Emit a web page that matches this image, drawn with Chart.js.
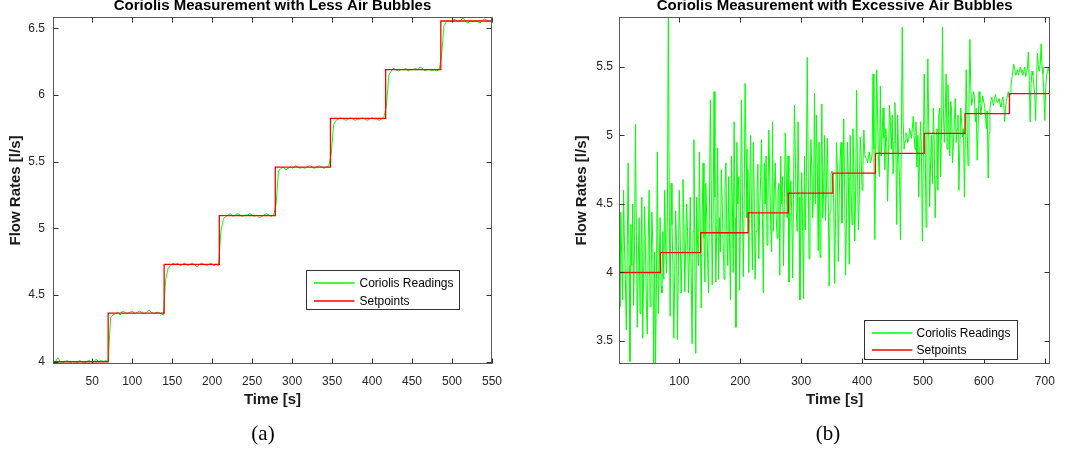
<!DOCTYPE html>
<html>
<head>
<meta charset="utf-8">
<script src="https://cdn.jsdelivr.net/npm/chart.js@4.4.0/dist/chart.umd.min.js"></script>
<style>
  html,body{margin:0;padding:0;background:#fff;}
  body{width:1065px;height:452px;position:relative;overflow:hidden;}
  canvas{position:absolute;top:0;}
  .cap{position:absolute;top:421px;line-height:24px;font-family:"Liberation Serif","Times New Roman",serif;font-size:21px;color:#000;text-align:center;width:60px;}
</style>
</head>
<body>
<canvas id="ca" width="540" height="452" style="left:0;width:540px;height:452px"></canvas>
<canvas id="cb" width="525" height="452" style="left:540px;width:525px;height:452px"></canvas>
<div class="cap" style="left:233px">(a)</div>
<div class="cap" style="left:798px">(b)</div>
<script>
// ---------- Data: chart (a) ----------
const titleA = "Coriolis Measurement with Less Air Bubbles";
const readStartA = 1, readStepA = 3;
const readingsA = [
 4.01,4.00,4.03,4.00,3.99,4.00,4.01,3.99,4.00,4.00,3.99,4.01,4.00,3.99,4.00,4.01,4.00,4.00,4.02,4.00,4.01,4.00,4.01,4.00,
 4.33,4.35,4.36,4.37,4.35,4.38,4.37,4.36,4.37,4.38,4.36,4.37,4.38,4.37,4.36,4.37,4.39,4.37,4.36,4.37,4.37,4.36,4.35,
 4.62,4.70,4.72,4.74,4.73,4.74,4.72,4.73,4.74,4.72,4.73,4.74,4.73,4.71,4.73,4.74,4.73,4.72,4.73,4.74,4.72,4.73,4.72,
 4.98,5.07,5.09,5.10,5.11,5.09,5.10,5.11,5.10,5.09,5.10,5.10,5.11,5.10,5.09,5.10,5.08,5.09,5.10,5.11,5.10,5.09,5.10,
 5.18,5.43,5.45,5.46,5.44,5.45,5.46,5.45,5.47,5.46,5.45,5.46,5.45,5.46,5.47,5.46,5.45,5.46,5.47,5.46,5.45,5.46,5.47,
 5.56,5.78,5.81,5.82,5.83,5.82,5.81,5.82,5.83,5.82,5.81,5.82,5.82,5.83,5.82,5.81,5.82,5.83,5.82,5.82,5.81,5.82,5.84,
 5.92,6.15,6.18,6.20,6.19,6.18,6.19,6.19,6.20,6.18,6.19,6.19,6.20,6.19,6.21,6.20,6.18,6.19,6.19,6.18,6.19,6.18,6.19,
 6.30,6.52,6.55,6.56,6.55,6.57,6.56,6.55,6.56,6.58,6.55,6.54,6.56,6.55,6.56,6.55,6.54,6.56,6.57,6.56,6.55,6.55
];
const setTimesA  = [1, 70, 140, 209, 279, 348, 417, 486, 550];
const setLevelsA = [4.00, 4.365, 4.73, 5.095, 5.46, 5.825, 6.19, 6.555, 6.555];
const xTicksA = [50,100,150,200,250,300,350,400,450,500,550];
const yTicksA = [4,4.5,5,5.5,6,6.5];
const xRangeA = [1, 550], yRangeA = [3.983, 6.585];

// ---------- Data: chart (b) ----------
const titleB = "Coriolis Measurement with Excessive Air Bubbles";
const readStartB = 1, readStepB = 3;
// readings at t = 1, 4, 7, ...
const readingsB = [
 4.30,4.44,3.80,4.20,3.58,4.80,3.35,4.05,3.76,5.08,
 3.60,4.40,4.10,3.52,4.48,3.76,4.25,3.75,4.44,3.34,
 3.33,4.88,4.05,3.90,4.30,4.60,4.00,5.95,3.68,4.35,
 3.52,4.45,3.51,4.60,3.85,4.68,3.86,4.50,3.85,4.55,
 3.48,4.97,3.41,4.20,4.88,3.74,4.80,3.93,4.40,3.85,
 5.26,3.91,5.32,3.93,4.91,4.40,4.75,4.20,4.62,4.30,
 4.70,3.80,4.55,5.10,3.60,4.50,3.87,5.26,3.97,5.38,
 4.40,4.00,5.00,4.02,4.55,4.30,4.79,4.45,4.97,3.85,
 4.50,4.20,5.04,4.35,5.10,4.60,4.42,4.58,3.98,4.50,
 4.05,5.02,4.40,3.93,4.67,3.96,5.22,4.45,5.10,3.80,
 4.73,3.81,4.31,5.57,4.10,4.97,4.40,5.31,5.15,4.16,
 4.11,5.23,4.60,4.38,4.98,3.90,4.72,4.71,3.92,4.95,
 4.08,4.83,4.36,5.12,3.98,4.95,4.06,4.60,5.05,4.23,
 5.33,4.31,4.99,4.60,5.04,4.84,4.80,4.88,4.82,5.45,
 4.24,5.48,4.80,5.36,5.02,4.98,5.05,4.52,5.22,4.90,
 4.72,5.24,4.35,4.85,4.24,5.79,4.90,5.02,4.95,5.05,
 4.98,5.14,4.90,4.77,4.55,5.10,4.23,5.45,4.33,5.56,
 4.48,5.00,5.20,4.40,5.05,5.15,4.70,5.79,4.95,5.45,
 5.37,4.85,5.18,4.95,5.27,5.05,4.60,5.20,4.99,4.55,
 5.48,4.78,5.70,5.22,5.32,5.10,4.82,5.32,5.15,5.29,
 5.22,5.05,4.69,5.20,5.28,5.22,5.30,5.24,5.27,5.21,
 5.28,5.10,5.25,5.32,5.30,5.42,5.52,5.44,5.48,5.46,
 5.48,5.44,5.50,5.46,5.61,5.10,5.47,5.37,5.11,5.60,
 5.47,5.67,5.45,5.11,5.44,5.50,5.40
];
// readings at the in-between times t = 2.5, 5.5, 8.5, ...
const readingsBmid = [
 3.75,4.10,4.60,3.95,4.15,4.05,4.35,4.50,4.20,4.30,
 4.05,3.70,4.55,4.00,4.15,3.55,4.60,3.90,4.20,4.15,
 3.95,3.70,4.40,3.85,3.95,4.20,4.45,4.50,4.65,4.05,
 4.00,4.20,4.05,4.25,4.15,4.40,4.20,4.30,4.10,4.00,
 4.30,4.10,4.55,4.05,4.25,4.40,4.25,4.65,4.10,4.50,
 4.60,4.40,4.55,4.35,3.95,4.15,4.50,3.95,4.80,4.05,
 4.25,4.85,4.00,4.40,4.95,4.70,4.45,4.60,4.50,4.90,
 4.75,4.60,4.45,4.95,3.95,4.60,4.10,4.70,4.40,4.80,
 4.85,4.50,4.70,4.15,4.30,4.80,4.25,4.65,4.85,4.70,
 4.55,4.75,4.85,4.40,4.45,4.60,4.85,4.30,4.55,4.25,
 4.30,4.85,4.70,4.80,4.45,4.75,4.60,4.50,4.80,4.95,
 4.65,4.40,5.00,4.60,4.55,4.45,4.74,4.50,4.40,4.75,
 4.55,4.95,4.70,4.55,4.40,4.70,5.00,4.35,4.75,4.60,
 4.75,4.55,4.85,4.78,4.86,4.83,4.85,4.80,4.86,4.90,
 4.95,5.15,4.70,4.85,5.20,4.75,4.95,4.85,5.10,5.15,
 4.95,4.90,5.15,4.70,5.00,5.10,4.96,5.00,4.97,5.02,
 5.05,5.00,5.10,5.00,4.85,4.90,4.80,5.00,4.95,5.05,
 4.80,4.65,4.95,4.70,4.60,5.20,5.05,5.20,5.15,4.90,
 5.10,5.25,4.80,5.10,4.95,5.15,4.90,5.10,5.05,5.00,
 5.05,5.20,5.35,5.26,5.28,5.20,5.05,5.24,5.22,5.25,
 5.15,5.18,5.02,5.25,5.24,5.27,5.26,5.25,5.23,5.25,
 5.24,5.20,5.29,5.28,5.36,5.47,5.49,5.45,5.44,5.50,
 5.46,5.47,5.43,5.49,5.40,5.38,5.44,5.30,5.42,5.50,
 5.52,5.50,5.30,5.35,5.47,5.45
];
const setTimesB  = [1, 69, 135, 213, 279, 352, 422, 502, 569, 642, 709];
const setLevelsB = [4.00, 4.145, 4.29, 4.435, 4.58, 4.725, 4.87, 5.015, 5.16, 5.305, 5.305];
const xTicksB = [100,200,300,400,500,600,700];
const yTicksB = [3.5,4,4.5,5,5.5];
const xRangeB = [1, 709], yRangeB = [3.332, 5.865];

const seriesNames = ["Coriolis Readings", "Setpoints"];
const xLabel = "Time [s]", yLabel = "Flow Rates [l/s]";

// ---------- helpers ----------
const FONT = "'Liberation Sans', Helvetica, Arial, sans-serif";
function pts(start, step, vals, mids){
  const out = [];
  vals.forEach((v,i)=>{
    out.push({x:start+step*i, y:v});
    if (mids && i < mids.length) out.push({x:start+step*i+step/2, y:mids[i]});
  });
  return out;
}
function stepPts(ts, ls){ return ts.map((t,i)=>({x:t, y:ls[i]})); }

const boxPlugin = {
  id: 'mbox',
  afterDatasetsDraw(chart, args, o){
    const {ctx, chartArea:a, scales} = chart;
    ctx.save();
    ctx.strokeStyle = '#5a5a5a'; ctx.lineWidth = 1;
    const L = Math.round(a.left)+0.5, R = Math.round(a.right)-0.5, T = Math.round(a.top)+0.5, B = Math.round(a.bottom)-0.5;
    ctx.strokeRect(L, T, R-L, B-T);
    ctx.strokeStyle = '#333';
    ctx.beginPath();
    const tl = 5;
    scales.x.ticks.forEach(t=>{
      const px = Math.round(scales.x.getPixelForValue(t.value))+0.5;
      ctx.moveTo(px, B); ctx.lineTo(px, B-tl);
      ctx.moveTo(px, T); ctx.lineTo(px, T+tl);
    });
    scales.y.ticks.forEach(t=>{
      const py = Math.round(scales.y.getPixelForValue(t.value))+0.5;
      ctx.moveTo(L, py); ctx.lineTo(L+tl, py);
      ctx.moveTo(R, py); ctx.lineTo(R-tl, py);
    });
    ctx.stroke();
    // legend inside the axes
    const lg = o.legend;
    const bx = Math.round(a.right - lg.right - lg.w)+0.5;
    const by = lg.top != null ? Math.round(a.top + lg.top)+0.5 : Math.round(a.bottom - lg.bottom - lg.h)+0.5;
    ctx.fillStyle = '#fff';
    ctx.fillRect(bx, by, lg.w, lg.h);
    ctx.strokeStyle = '#333'; ctx.lineWidth = 1;
    ctx.strokeRect(bx, by, lg.w, lg.h);
    const ds = chart.data.datasets;
    [1,0].forEach((di, r)=>{
      const d = ds[di];
      const y = Math.round(by + lg.row0 + r*lg.rowGap);
      ctx.strokeStyle = d.borderColor; ctx.lineWidth = 1.5;
      ctx.beginPath(); ctx.moveTo(bx+7.5, y); ctx.lineTo(bx+48, y); ctx.stroke();
      ctx.fillStyle = '#000'; ctx.font = '12px ' + FONT; ctx.textBaseline = 'middle'; ctx.textAlign = 'left';
      ctx.fillText(d.label, bx + lg.textX, y+0.5);
    });
    ctx.restore();
  }
};

function makeChart(id, cfg){
  const tickFont = {family: FONT, size: 12};
  const labFont = {family: FONT, size: 15, weight: 'bold', lineHeight: 1.2};
  return new Chart(document.getElementById(id), {
    type: 'line',
    data: {
      datasets: [
        {label: seriesNames[1], data: cfg.setp, borderColor: '#ff0000', borderWidth: 1.3, pointRadius: 0, stepped: true, tension: 0},
        {label: seriesNames[0], data: cfg.read, borderColor: '#00ff00', borderWidth: 1, pointRadius: 0, tension: 0}
      ]
    },
    options: {
      responsive: false, animation: false, events: [],
      layout: {padding: {left: 0, right: cfg.padRight, top: 0, bottom: 38}},
      plugins: {
        legend: {display: false}, tooltip: {enabled: false},
        title: {display: true, text: cfg.title, fullSize: false, color: '#000',
                font: {family: FONT, size: 15, weight: 'bold', lineHeight: 0.8}, padding: {top: 0, bottom: 5}},
        mbox: {legend: cfg.legend}
      },
      scales: {
        x: {
          type: 'linear', min: cfg.xr[0], max: cfg.xr[1],
          grid: {display: false, drawTicks: false}, border: {display: false},
          afterBuildTicks: s => { s.ticks = cfg.xt.map(v=>({value:v})); },
          afterFit: s => { s.height = 50; },
          ticks: {font: tickFont, color: '#262626', padding: 10, autoSkip: false, maxRotation: 0, callback: v => String(v)},
          title: {display: true, text: xLabel, color: '#1a1a1a', font: labFont, padding: {top: 0, bottom: 5}}
        },
        y: {
          type: 'linear', min: cfg.yr[0], max: cfg.yr[1],
          grid: {display: false, drawTicks: false}, border: {display: false},
          afterBuildTicks: s => { s.ticks = cfg.yt.map(v=>({value:v})); },
          afterFit: s => { s.width = cfg.yWidth; },
          ticks: {font: tickFont, color: '#262626', padding: cfg.yPad, autoSkip: false, callback: v => String(v)},
          title: {display: true, text: yLabel, color: '#1a1a1a', font: labFont, padding: {top: cfg.yTitlePad, bottom: 0}}
        }
      }
    },
    plugins: [boxPlugin]
  });
}

makeChart('ca', {
  title: titleA, read: pts(readStartA, readStepA, readingsA), setp: stepPts(setTimesA, setLevelsA),
  xr: xRangeA, yr: yRangeA, xt: xTicksA, yt: yTicksA,
  yWidth: 53, padRight: 48, yPad: 8, yTitlePad: 7,
  legend: {w: 153, h: 39, right: 33, top: 253, row0: 12, rowGap: 18, textX: 53}
});
makeChart('cb', {
  title: titleB, read: pts(readStartB, readStepB, readingsB, readingsBmid), setp: stepPts(setTimesB, setLevelsB),
  xr: xRangeB, yr: yRangeB, xt: xTicksB, yt: yTicksB,
  yWidth: 79, padRight: 8, yPad: 6, yTitlePad: 33,
  legend: {w: 153, h: 39, right: 33, bottom: 5, row0: 12, rowGap: 17.5, textX: 52}
});
</script>
</body>
</html>
